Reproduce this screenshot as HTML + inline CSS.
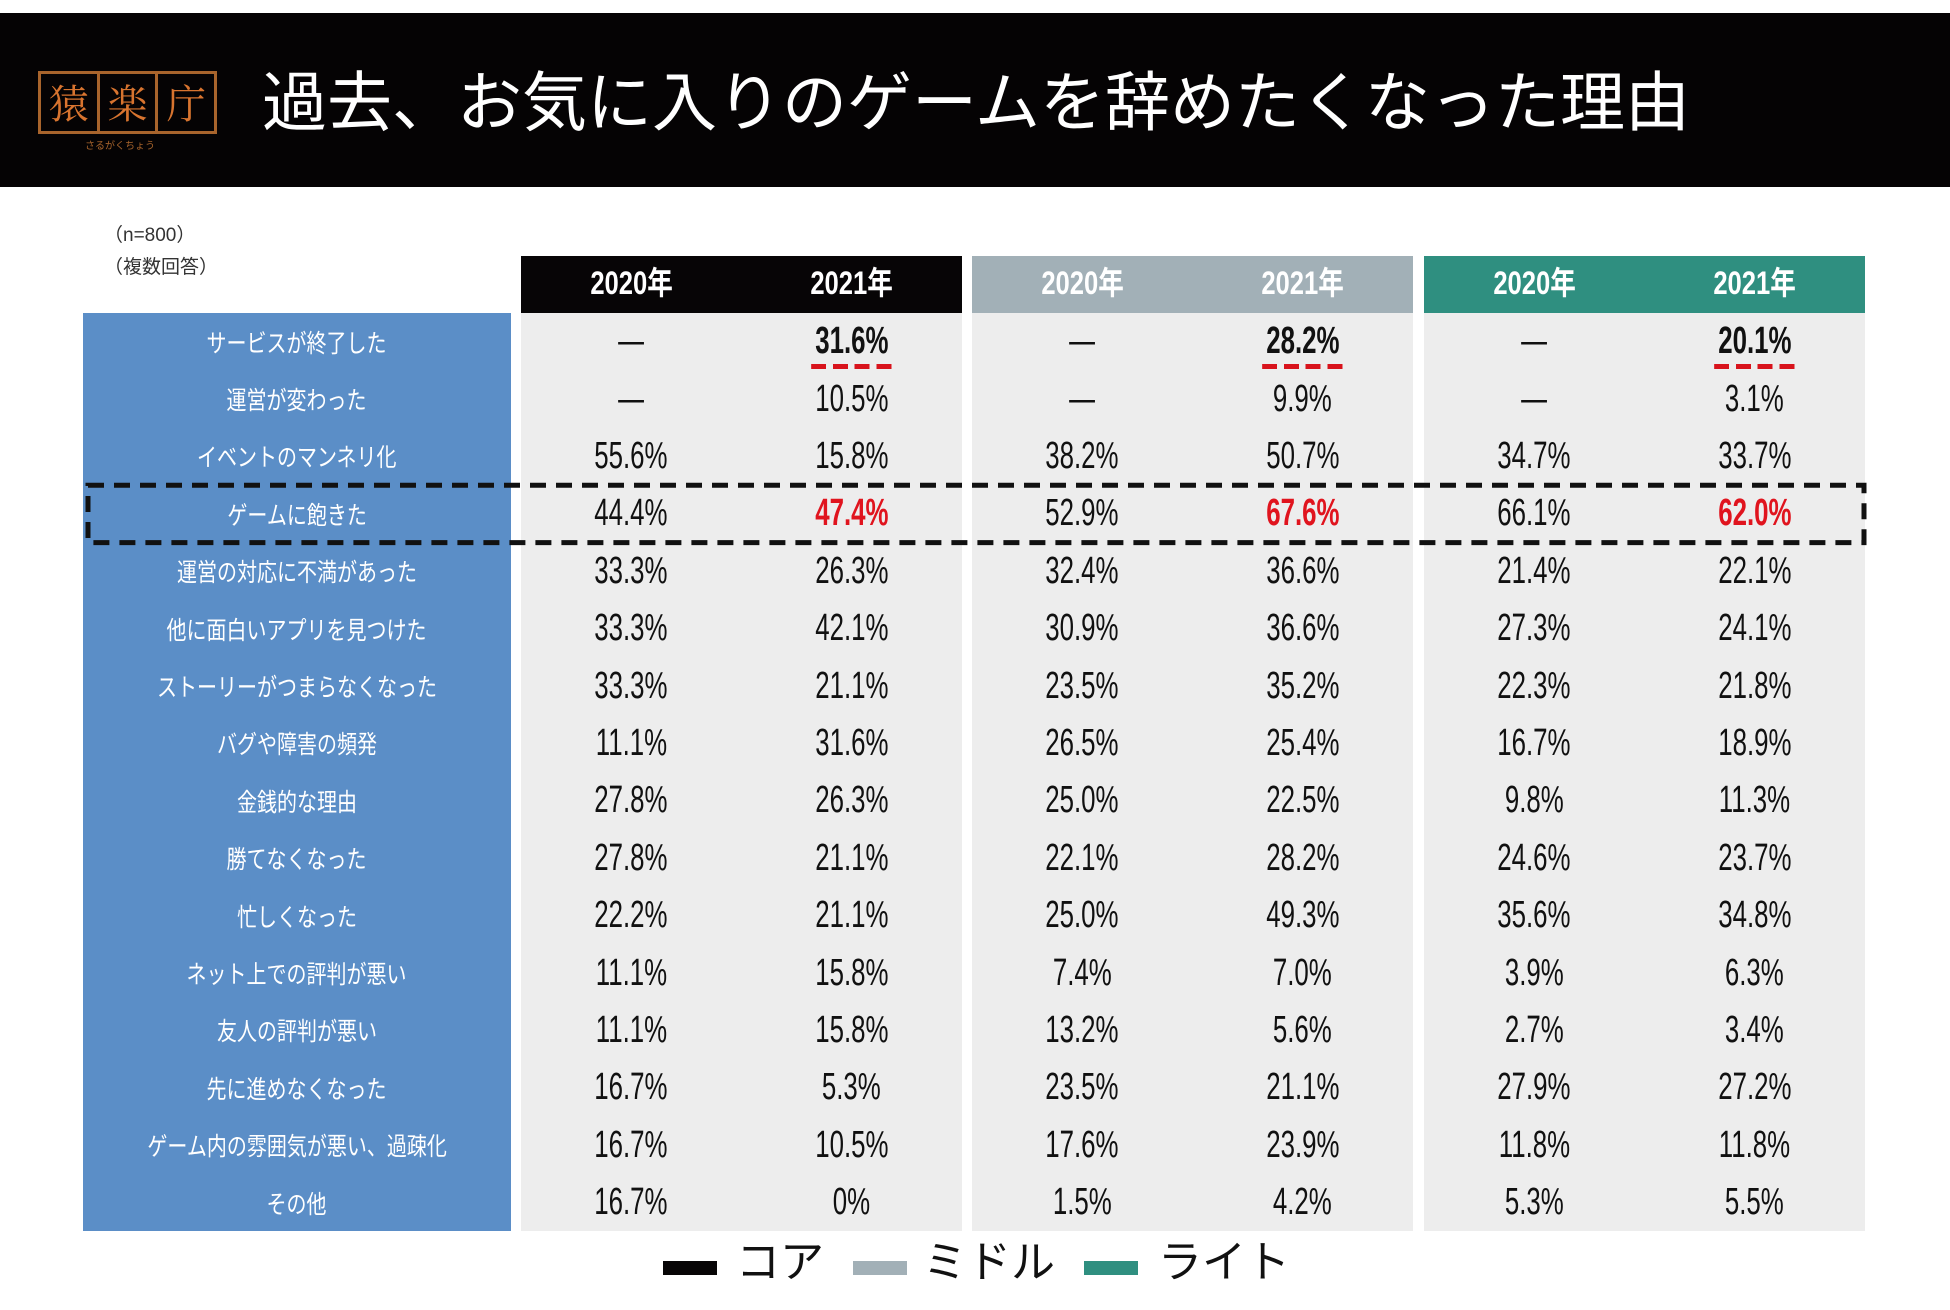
<!DOCTYPE html>
<html><head><meta charset="utf-8"><style>
body{margin:0;width:1950px;height:1310px;background:#fff;position:relative;overflow:hidden;font-family:"Liberation Sans","Noto Sans CJK JP",sans-serif;}
.abs{position:absolute;}
.banner{left:0;top:13px;width:1950px;height:174px;background:#050304;}
.title{left:262px;top:58px;font-size:65px;color:#fff;white-space:nowrap;letter-spacing:0px;line-height:90px;}
.logo{left:38px;top:71px;width:179px;height:63px;border:3px solid #a8642c;box-sizing:border-box;display:flex;}
.logo span{flex:1;border-right:3px solid #a8642c;color:#d8742f;font-size:40px;text-align:center;line-height:56px;font-family:"Noto Serif CJK SC",serif;}
.logo span:last-child{border-right:none;}
.note{font-size:19px;color:#333;}
.cell{position:absolute;text-align:center;display:flex;align-items:center;justify-content:center;}
.val{font-size:38px;color:#111;transform:scaleX(0.68);white-space:nowrap;position:relative;}
.ul::after{content:"";position:absolute;left:-6px;right:-6px;bottom:-6px;height:5px;background:repeating-linear-gradient(90deg,#d8131c 0 22px,transparent 22px 32px);}
.lab{font-size:25px;color:#fff;transform:scaleX(0.8);white-space:nowrap;}
.hdr{font-size:32px;color:#fff;font-weight:bold;transform:scaleX(0.8);white-space:nowrap;margin-top:-8px;}
.leg{font-size:44px;color:#111;white-space:nowrap;line-height:50px;}
</style></head><body>
<div class="abs banner"></div>
<div class="abs logo"><span>猿</span><span>楽</span><span>庁</span></div>
<div class="abs" style="left:85px;top:137px;font-size:10px;color:#a8642c;">さるがくちょう</div>
<div class="abs title">過去、お気に入りのゲームを辞めたくなった理由</div>
<div class="abs note" style="left:104px;top:220px;">（n=800）</div>
<div class="abs note" style="left:104px;top:252px;">（複数回答）</div>
<div id="tbl"></div>
<svg class="abs" style="left:0;top:0" width="1950" height="1310" id="ov"></svg>
<script>
const reasons=["サービスが終了した","運営が変わった","イベントのマンネリ化","ゲームに飽きた","運営の対応に不満があった","他に面白いアプリを見つけた","ストーリーがつまらなくなった","バグや障害の頻発","金銭的な理由","勝てなくなった","忙しくなった","ネット上での評判が悪い","友人の評判が悪い","先に進めなくなった","ゲーム内の雰囲気が悪い、過疎化","その他"];
const groups=["コア","ミドル","ライト"];
const years=["2020年","2021年"];
const core2020=[null,null,55.6,44.4,33.3,33.3,33.3,11.1,27.8,27.8,22.2,11.1,11.1,16.7,16.7,16.7];
const core2021=[31.6,10.5,15.8,47.4,26.3,42.1,21.1,31.6,26.3,21.1,21.1,15.8,15.8,5.3,10.5,0];
const mid2020=[null,null,38.2,52.9,32.4,30.9,23.5,26.5,25.0,22.1,25.0,7.4,13.2,23.5,17.6,1.5];
const mid2021=[28.2,9.9,50.7,67.6,36.6,36.6,35.2,25.4,22.5,28.2,49.3,7.0,5.6,21.1,23.9,4.2];
const lite2020=[null,null,34.7,66.1,21.4,27.3,22.3,16.7,9.8,24.6,35.6,3.9,2.7,27.9,11.8,5.3];
const lite2021=[20.1,3.1,33.7,62.0,22.1,24.1,21.8,18.9,11.3,23.7,34.8,6.3,3.4,27.2,11.8,5.5];
const series=[[core2020,core2021],[mid2020,mid2021],[lite2020,lite2021]];
const groupColors=["#070506","#a2b0b7","#2f8f80"];
const groupLeft=[521,972,1424], groupW=441, top0=256, hdrH=57, rowH=57.4;
const underlineRow=0, highlightRow=3;
const T=document.getElementById('tbl');
function fmt(v){if(v===null)return "—";if(v===0)return "0%";return v.toFixed(1)+"%";}
const labBg=document.createElement('div');
labBg.className='abs';
labBg.style.cssText=`left:83px;top:${top0+hdrH}px;width:428px;height:${rowH*reasons.length}px;background:#5b8ec7;`;


T.appendChild(labBg);
reasons.forEach((r,i)=>{
 const c=document.createElement('div');c.className='cell';
 c.style.cssText=`left:83px;top:${top0+hdrH+i*rowH}px;width:428px;height:${rowH}px;`;
 
 
 c.innerHTML=`<span class="lab">${r}</span>`;T.appendChild(c);
});
groups.forEach((g,gi)=>{
 const hb=document.createElement('div');hb.className='abs';
 hb.style.cssText=`left:${groupLeft[gi]}px;top:${top0}px;width:${groupW}px;height:${hdrH}px;background:${groupColors[gi]};`;
 
 
 T.appendChild(hb);
 const bb=document.createElement('div');bb.className='abs';
 bb.style.cssText=`left:${groupLeft[gi]}px;top:${top0+hdrH}px;width:${groupW}px;height:${rowH*reasons.length}px;background:#ededed;`;
 
 
 T.appendChild(bb);
 years.forEach((y,yi)=>{
  const x=groupLeft[gi]+yi*groupW/2;
  const h=document.createElement('div');h.className='cell';
  h.style.cssText=`left:${x}px;top:${top0}px;width:${groupW/2}px;height:${hdrH}px;`;
  
  
  h.innerHTML=`<span class="hdr">${y}</span>`;T.appendChild(h);
  series[gi][yi].forEach((v,i)=>{
   const c=document.createElement('div');c.className='cell';
   c.style.cssText=`left:${x}px;top:${top0+hdrH+i*rowH}px;width:${groupW/2}px;height:${rowH}px;`;
   
   
   const red=(i===highlightRow&&yi===1);
   const ul=(i===underlineRow&&yi===1);
   c.innerHTML=`<span class="val${ul?' ul':''}" style="${red?'color:#e0141e;font-weight:bold;':''}${ul?'font-weight:bold;':''}">${fmt(v)}</span>`;
   T.appendChild(c);
  });
 });
});
const ov=document.getElementById('ov');
const hy=top0+hdrH+highlightRow*rowH;
const rect=document.createElementNS('http://www.w3.org/2000/svg','rect');
rect.setAttribute('x',88);rect.setAttribute('y',hy);rect.setAttribute('width',1776);rect.setAttribute('height',rowH);
rect.setAttribute('fill','none');rect.setAttribute('stroke','#111');rect.setAttribute('stroke-width',5);rect.setAttribute('stroke-dasharray','16 10');


ov.appendChild(rect);
const legX=[[663,736],[853,923],[1084,1158]];
groups.forEach((g,gi)=>{
 const b=document.createElement('div');b.className='abs';
 b.style.cssText=`left:${legX[gi][0]}px;top:1261px;width:54px;height:14px;background:${groupColors[gi]};`;
 
 
 document.body.appendChild(b);
 const t=document.createElement('div');t.className='abs leg';
 t.style.cssText=`left:${legX[gi][1]}px;top:1238px;`;
 
 
 t.textContent=g;document.body.appendChild(t);
});
</script>
</body></html>
